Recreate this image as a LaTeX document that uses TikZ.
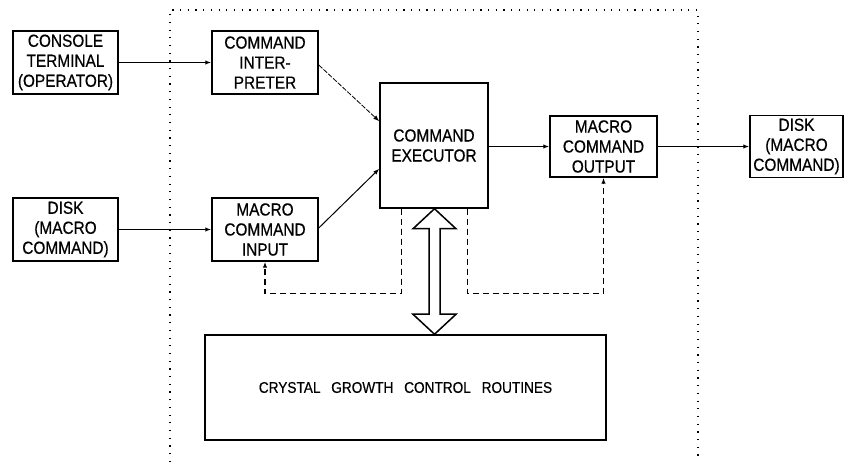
\documentclass[tikz,border=0pt]{standalone}
\usepackage{fontspec}
\setmainfont{Liberation Sans}[FakeStretch=0.88,FakeBold=0.5]
\usetikzlibrary{arrows.meta,calc}
\begin{document}
\begin{tikzpicture}[x=1pt,y=-1pt,
  box/.style={draw, line width=1.5pt, align=center, inner sep=0pt, font=\fontsize{17.5}{20}\selectfont},
  tip/.style={-{Latex[length=6pt,width=4.5pt]}},
  conn/.style={line width=1.3pt, tip},
  thinconn/.style={line width=0.8pt, dash pattern=on 5pt off 1.5pt, tip},
  fb/.style={line width=1.3pt, dash pattern=on 6pt off 4pt, tip},
  bound/.style={line width=1.2pt, dash pattern=on 1.2pt off 6.5pt},
  hollow/.style={draw, line width=1.5pt, fill=white, line join=miter}]
\useasboundingbox (0,0) rectangle (844,470);
\fill[white] (0,0) rectangle (844,470);

% dotted boundary
\draw[bound] (170,462) -- (170,10) -- (698,10) -- (698,462);

% boxes
\node[box, minimum width=105pt, minimum height=63pt] (console) at (65.5,62.5) {CONSOLE\\TERMINAL\\(OPERATOR)};
\node[box, minimum width=106pt, minimum height=63pt] (interp) at (265,62.5) {COMMAND\\INTER-\\PRETER};
\node[box, minimum width=108pt, minimum height=125pt] (exec) at (434,145.5) {COMMAND\\EXECUTOR};
\node[box, minimum width=107pt, minimum height=61pt] (output) at (603.5,146.5) {MACRO\\COMMAND\\OUTPUT};
\node[box, minimum width=93pt, minimum height=62pt] (diskR) at (796.5,146.5) {DISK\\(MACRO\\COMMAND)};
\node[box, minimum width=105pt, minimum height=63pt] (diskL) at (65.5,229.5) {DISK\\(MACRO\\COMMAND)};
\node[box, minimum width=106pt, minimum height=63pt] (input) at (265,229.5) {MACRO\\COMMAND\\INPUT};
\node[box, minimum width=401pt, minimum height=105pt, font=\fontsize{15.5}{18}\selectfont] (crystal) at (405.5,387.5)
  {CRYSTAL \hspace{7pt}GROWTH \hspace{7pt}CONTROL \hspace{7pt}ROUTINES};

% connectors
\draw[conn] (console.east) -- (interp.west);
\draw[conn] (diskL.east) -- (input.west);
\draw[thinconn] ($(interp.east)+(0,2.5)$) -- ($(exec.north west)+(0,39)$);
\draw[conn, line width=1pt] ($(input.east)+(0,-1.5)$) -- ($(exec.south west)+(0,-40)$);
\draw[conn] (exec.east |- output.west) -- (output.west);
\draw[conn] (output.east) -- (diskR.west);

% dashed feedback paths
\draw[fb] ($(exec.south west)+(22,0)$) -- ++(0,85) -| (input.south);
\draw[fb] ($(exec.south east)+(-21,0)$) -- ++(0,85) -| (output.south);

% hollow double arrow between executor and crystal growth routines
\coordinate (topTip) at (434.5,0 |- exec.south);
\coordinate (botTip) at (434.5,0 |- crystal.north);
\draw[hollow] (topTip) -- ++(21.5,20) -- ++(-16,0) -- ($(botTip)+(5.5,-20)$) -- ++(16,0) -- (botTip)
  -- ++(-21.5,-20) -- ++(16,0) -- ($(topTip)+(-5.5,20)$) -- ++(-16,0) -- cycle;
\end{tikzpicture}
\end{document}
